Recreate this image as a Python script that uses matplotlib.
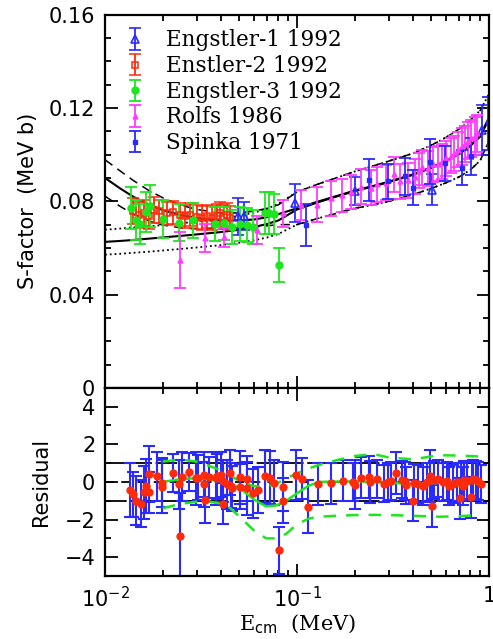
import numpy as np
import matplotlib
matplotlib.use("Agg")
import matplotlib.pyplot as plt

# ---- fitted S-factor curves ----
E_fit = [0.01, 0.012, 0.014, 0.017, 0.02, 0.025, 0.03, 0.04, 0.05, 0.06, 0.07, 0.08,
         0.1, 0.13, 0.16, 0.2, 0.25, 0.3, 0.4, 0.5, 0.6, 0.7, 0.8, 0.9, 1.0]
S_screened = [0.0900, 0.0855, 0.0820, 0.0785, 0.0762, 0.0740, 0.0728, 0.0718, 0.0718, 0.0722, 0.0732, 0.0745,
              0.0770, 0.0800, 0.0822, 0.0846, 0.0866, 0.0884, 0.0915, 0.0945, 0.0975, 0.1005, 0.1040, 0.1080, 0.1160]
S_screened_hi = [0.0978, 0.0930, 0.0890, 0.0845, 0.0815, 0.0783, 0.0765, 0.0750, 0.0750, 0.0758, 0.0770, 0.0785,
                 0.0840, 0.0875, 0.0900, 0.0928, 0.0952, 0.0972, 0.1005, 0.1040, 0.1075, 0.1110, 0.1148, 0.1190, 0.1260]
S_screened_lo = [0.0822, 0.0778, 0.0745, 0.0715, 0.0698, 0.0686, 0.0683, 0.0683, 0.0686, 0.0690, 0.0695, 0.0700,
                 0.0700, 0.0728, 0.0748, 0.0770, 0.0785, 0.0800, 0.0828, 0.0855, 0.0880, 0.0905, 0.0935, 0.0975, 0.1060]
S_bare = [0.0626, 0.0630, 0.0634, 0.0640, 0.0645, 0.0652, 0.0658, 0.0668, 0.0678, 0.0690, 0.0703, 0.0718,
          0.0765, 0.0797, 0.0820, 0.0844, 0.0864, 0.0882, 0.0913, 0.0943, 0.0973, 0.1003, 0.1038, 0.1078, 0.1155]
S_bare_hi = [0.0678, 0.0683, 0.0688, 0.0693, 0.0698, 0.0706, 0.0713, 0.0725, 0.0738, 0.0752, 0.0768, 0.0790,
             0.0840, 0.0875, 0.0900, 0.0928, 0.0952, 0.0972, 0.1005, 0.1040, 0.1075, 0.1110, 0.1148, 0.1190, 0.1260]
S_bare_lo = [0.0571, 0.0575, 0.0579, 0.0584, 0.0589, 0.0596, 0.0602, 0.0612, 0.0622, 0.0633, 0.0645, 0.0660,
             0.0700, 0.0728, 0.0748, 0.0770, 0.0785, 0.0800, 0.0828, 0.0855, 0.0880, 0.0905, 0.0935, 0.0975, 0.1060]

# ---- data sets ----
eng1_E = [0.0495, 0.0531, 0.0977, 0.200, 0.506, 0.915]
eng1_S = [0.0735, 0.0735, 0.0792, 0.0842, 0.0850, 0.1107]
eng1_err = [0.0080, 0.0060, 0.0082, 0.0060, 0.0065, 0.0107]

eng2_E = [0.0140, 0.0151, 0.0160, 0.0169, 0.0180, 0.0190, 0.0210, 0.0225, 0.0246, 0.0261,
          0.0277, 0.0300, 0.0319, 0.0338, 0.0359, 0.0381, 0.0397, 0.0417, 0.0433, 0.0447]
eng2_S = [0.0757, 0.0742, 0.0749, 0.0735, 0.0764, 0.0757, 0.0749, 0.0752, 0.0742, 0.0735,
          0.0742, 0.0732, 0.0728, 0.0735, 0.0728, 0.0738, 0.0749, 0.0732, 0.0742, 0.0728]
eng2_err = [0.0055, 0.0055, 0.0055, 0.0055, 0.0055, 0.0050, 0.0050, 0.0050, 0.0050, 0.0050,
            0.0050, 0.0050, 0.0050, 0.0050, 0.0050, 0.0050, 0.0050, 0.0050, 0.0050, 0.0050]

eng3_E = [0.0136, 0.0145, 0.0153, 0.0163, 0.0172, 0.0200, 0.0244, 0.0286, 0.0374,
          0.0417, 0.0460, 0.0505, 0.0547, 0.0593, 0.0681, 0.0717, 0.0759, 0.0809]
eng3_S = [0.0771, 0.0721, 0.0702, 0.0754, 0.0781, 0.0724, 0.0709, 0.0718, 0.0702,
          0.0705, 0.0689, 0.0702, 0.0699, 0.0689, 0.0749, 0.0749, 0.0745, 0.0528]
eng3_err = [0.0090, 0.0085, 0.0085, 0.0085, 0.0090, 0.0080, 0.0078, 0.0075, 0.0072,
            0.0072, 0.0072, 0.0072, 0.0072, 0.0072, 0.0090, 0.0090, 0.0085, 0.0072]

rolfs_E = [0.0246, 0.0332, 0.0417, 0.0617, 0.0849, 0.1055, 0.127, 0.151, 0.171, 0.191,
           0.215, 0.242, 0.262, 0.291, 0.320, 0.345, 0.380, 0.410, 0.430, 0.450,
           0.480, 0.510, 0.540, 0.570, 0.600, 0.630, 0.660, 0.690, 0.720, 0.750,
           0.780, 0.810, 0.840, 0.870]
rolfs_S = [0.0549, 0.0642, 0.0645, 0.0678, 0.0749, 0.0785, 0.0785, 0.0814, 0.0826, 0.0840,
           0.0862, 0.0858, 0.0872, 0.0880, 0.0915, 0.0885, 0.0890, 0.0905, 0.0930, 0.0945,
           0.0942, 0.0958, 0.0962, 0.0972, 0.0985, 0.0995, 0.1005, 0.1020, 0.1035, 0.1045,
           0.1060, 0.1070, 0.1080, 0.1092]
rolfs_err = [0.0120, 0.0060, 0.0040, 0.0060, 0.0058, 0.0065, 0.0075, 0.0075, 0.0070, 0.0072,
             0.0075, 0.0075, 0.0075, 0.0075, 0.0075, 0.0075, 0.0075, 0.0075, 0.0075, 0.0075,
             0.0075, 0.0075, 0.0075, 0.0075, 0.0075, 0.0075, 0.0075, 0.0075, 0.0078, 0.0078,
             0.0078, 0.0080, 0.0080, 0.0080]

spinka_E = [0.112, 0.238, 0.298, 0.363, 0.402, 0.490, 0.590, 0.720, 0.810, 0.990]
spinka_S = [0.0699, 0.0892, 0.0885, 0.0907, 0.0857, 0.0970, 0.0964, 0.0943, 0.0993, 0.1135]
spinka_err = [0.0090, 0.0090, 0.0075, 0.0080, 0.0075, 0.0095, 0.0075, 0.0075, 0.0080, 0.0113]

# ---- residuals ----
res_E = [0.01349, 0.01394, 0.01445, 0.01534, 0.01602, 0.01629, 0.01701, 0.01701, 0.01859, 0.01988,
         0.01988, 0.02253, 0.02429, 0.02458, 0.02509, 0.02749, 0.02979, 0.03040, 0.03267, 0.03290,
         0.03318, 0.03493, 0.03786, 0.03846, 0.04006, 0.04132, 0.04132, 0.04335, 0.04477, 0.04515,
         0.04603, 0.05048, 0.05048, 0.05470, 0.05510, 0.05922, 0.06265, 0.06786, 0.07233, 0.07616,
         0.08086, 0.08423, 0.08423, 0.09881, 0.1066, 0.1145, 0.1291, 0.1509, 0.1730, 0.1950,
         0.2005, 0.2162, 0.2381, 0.2401, 0.2611, 0.2829, 0.2989, 0.3076, 0.3278, 0.3510,
         0.3652, 0.3696, 0.4020, 0.4068, 0.4283, 0.4549, 0.4772, 0.4929, 0.5031, 0.5171,
         0.5444, 0.5740, 0.6022, 0.6212, 0.6519, 0.6790, 0.7063, 0.7123, 0.7348, 0.7411,
         0.7656, 0.8061, 0.8128, 0.8285, 0.8559, 0.8799, 0.9120]
res_val = [-0.43, -0.66, -1.00, -1.16, -0.55, -0.21, 0.43, -0.55, 0.30, -0.25,
           -0.04, 0.46, -0.12, -2.88, 0.27, 0.52, 0.20, 0.23, 0.39, -0.12,
           -0.96, 0.25, 0.20, 0.30, 0.39, 0.05, -1.16, -0.12, 0.50, -0.21,
           -0.34, 0.25, -0.25, -0.34, 0.16, -0.60, -0.43, 0.30, 0.23, -0.04,
           -3.63, -0.25, -1.00, 0.37, 0.18, -1.32, -0.11, -0.07, 0.07, 0.00,
           -0.14, 0.23, 0.27, 0.00, 0.14, -0.09, 0.00, 0.05, 0.48, 0.12,
           0.04, -0.18, -1.00, -0.07, -0.12, -0.21, 0.00, 0.32, -1.28, 0.11,
           0.18, 0.00, 0.05, -0.21, -0.12, 0.00, -0.87, 0.00, -0.21, 0.11,
           0.05, -0.82, 0.11, 0.18, 0.11, 0.05, -0.12]
res_err = [1.42, 1.20, 1.30, 1.25, 1.40, 1.45, 1.50, 1.10, 1.30, 1.40,
           1.30, 1.00, 1.30, 2.30, 1.30, 1.00, 1.40, 1.20, 1.20, 1.20,
           1.20, 1.10, 1.40, 1.20, 1.20, 1.10, 1.10, 1.30, 1.20, 1.20,
           1.20, 1.40, 1.20, 1.40, 1.20, 1.30, 1.20, 1.40, 1.40, 1.20,
           1.25, 1.30, 1.20, 1.35, 1.10, 1.40, 1.10, 1.10, 1.10, 1.00,
           1.30, 1.10, 1.10, 1.10, 1.00, 1.00, 1.00, 1.00, 1.10, 1.00,
           1.00, 1.00, 1.10, 1.00, 1.00, 1.00, 1.00, 1.40, 1.10, 1.00,
           1.00, 1.00, 1.00, 1.00, 1.00, 1.00, 1.10, 1.00, 1.00, 1.00,
           1.00, 1.10, 1.00, 1.00, 1.00, 1.00, 1.00]

E_res_fit = [0.020, 0.0246, 0.030, 0.035, 0.040, 0.045, 0.052, 0.060, 0.069, 0.078, 0.088,
             0.100, 0.115, 0.130, 0.160, 0.200, 0.250, 0.300, 0.400, 0.550, 0.700, 0.900]
res_fit = [0.00, 0.15, 0.20, 0.15, 0.05, -0.10, -0.45, -0.95, -1.30, -1.25, -1.00,
           -0.60, -0.20, 0.00, 0.02, 0.03, 0.00, -0.05, -0.10, -0.05, -0.05, -0.05]
res_fit_hi = [1.08, 1.20, 1.08, 0.85, 0.62, 0.35, -0.07, -0.22, -0.25, -0.10, 0.20,
              0.45, 0.72, 0.90, 1.15, 1.38, 1.48, 1.30, 1.20, 1.42, 1.40, 1.35]
res_fit_lo = [-1.40, -1.17, -1.05, -1.05, -1.14, -1.40, -2.00, -2.60, -3.00, -3.00, -2.75,
              -2.25, -1.95, -1.85, -1.80, -1.76, -1.75, -1.76, -1.80, -1.85, -1.82, -1.76]

BLUE = "#2a2aff"
RED = "#ff2a0a"
GREEN = "#1ee61e"
MAGENTA = "#ff3cff"


def styleAxis(ax):
    ax.set_xscale("log")
    ax.set_xlim(0.01, 1.0)
    for s in ax.spines.values():
        s.set_linewidth(1.6)
    ax.tick_params(which="both", direction="in", top=True, right=True, width=1.3, labelsize=15)
    ax.tick_params(which="major", length=9, pad=7)
    ax.tick_params(which="minor", length=4.5)


fig = plt.figure(figsize=(4.93, 6.39), dpi=100)
ax1 = fig.add_axes([0.213, 0.393, 0.779, 0.584])
ax2 = fig.add_axes([0.213, 0.0986, 0.779, 0.2944])

# top panel: S-factor
styleAxis(ax1)
ax1.plot(E_fit, S_screened, "k-", lw=1.5)
ax1.plot(E_fit, S_screened_hi, "k--", lw=1.1, dashes=(6, 4))
ax1.plot(E_fit, S_screened_lo, "k--", lw=1.1, dashes=(6, 4))
ax1.plot(E_fit, S_bare, "k-", lw=1.5)
ax1.plot(E_fit, S_bare_hi, "k:", lw=1.3)
ax1.plot(E_fit, S_bare_lo, "k:", lw=1.3)

ekw = dict(ls="none", elinewidth=1.3, capsize=4, capthick=1.3)
ax1.errorbar(eng1_E, eng1_S, yerr=eng1_err, fmt="^", color=BLUE, mfc="none", ms=6, mew=1.2,
             label="Engstler-1 1992", **ekw)
ax1.errorbar(eng2_E, eng2_S, yerr=eng2_err, fmt="s", color=RED, mfc="none", ms=4.5, mew=1.1,
             label="Enstler-2 1992", **ekw)
ax1.errorbar(eng3_E, eng3_S, yerr=eng3_err, fmt="o", color=GREEN, ms=5,
             label="Engstler-3 1992", **ekw)
ax1.errorbar(rolfs_E, rolfs_S, yerr=rolfs_err, fmt="^", color=MAGENTA, ms=3.5,
             label="Rolfs 1986", **ekw)
ax1.errorbar(spinka_E, spinka_S, yerr=spinka_err, fmt="s", color=BLUE, ms=3,
             label="Spinka 1971", **ekw)

ax1.set_ylim(0, 0.16)
ax1.set_yticks([0, 0.04, 0.08, 0.12, 0.16])
ax1.set_yticklabels(["0", "0.04", "0.08", "0.12", "0.16"])
ax1.set_yticks(np.arange(0, 0.161, 0.01), minor=True)
ax1.tick_params(labelbottom=False)
ax1.set_ylabel("S-factor  (MeV b)", fontsize=15, labelpad=8)

leg = ax1.legend(loc="upper left", bbox_to_anchor=(0.019, 0.995), frameon=False,
                 prop={"family": "DejaVu Serif", "size": 15.5}, handlelength=0.95,
                 handletextpad=0.95, labelspacing=0.17, borderaxespad=0.2)

# bottom panel: residuals
styleAxis(ax2)
ax2.axhline(0, color="k", lw=1.3, dashes=(5, 4))
ax2.axhline(1, color="k", lw=1.3, dashes=(12, 2))
ax2.axhline(-1, color="k", lw=1.3, dashes=(12, 2))
ax2.errorbar(res_E, res_val, yerr=res_err, fmt="o", color=BLUE, mfc=RED, mec=RED, ms=5,
             ls="none", elinewidth=1.5, capsize=4, capthick=1.5)
ax2.plot(E_res_fit, res_fit, "-", color=GREEN, lw=1.8)
ax2.plot(E_res_fit, res_fit_hi, "--", color=GREEN, lw=1.8, dashes=(5, 4))
ax2.plot(E_res_fit, res_fit_lo, "--", color=GREEN, lw=1.8, dashes=(5, 4))

ax2.set_ylim(-5, 5)
ax2.set_yticks([-4, -2, 0, 2, 4])
ax2.set_yticklabels(["\u22124", "\u22122", "0", "2", "4"])
ax2.set_yticks(np.arange(-5, 5.1, 1), minor=True)
ax2.set_ylabel("Residual", fontsize=15, labelpad=10)
ax2.set_xlabel(r"E$_{\rm cm}$  (MeV)", fontsize=15, family="DejaVu Serif", labelpad=1)
ax2.set_xticks([0.01, 0.1, 1.0])
ax2.set_xticklabels([r"$10^{-2}$", r"$10^{-1}$", "1"])

fig.savefig("out.png", dpi=100)
